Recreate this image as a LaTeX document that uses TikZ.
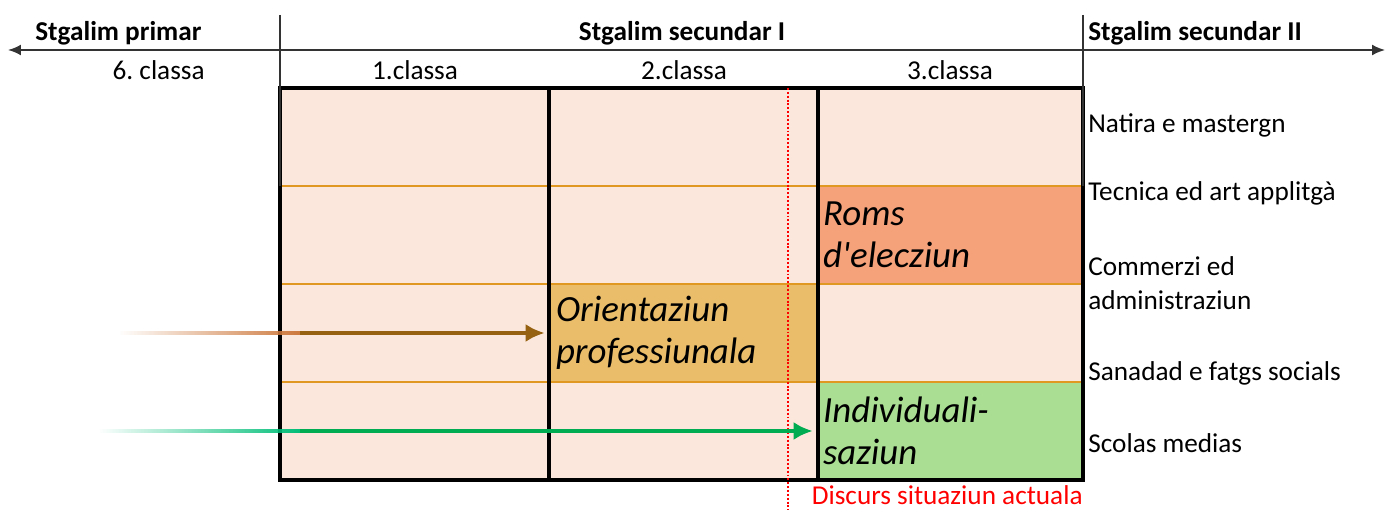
\documentclass[tikz,border=0pt]{standalone}
\usepackage{fontspec}
\setmainfont{Carlito}
\newfontfamily\handfont{Carlito}[Ligatures=TeXOff]
\usepackage{tikz}
\usetikzlibrary{arrows.meta,fadings}
\definecolor{cellbg}{RGB}{251,231,219}
\definecolor{romsfill}{RGB}{245,161,122}
\definecolor{orientfill}{RGB}{233,189,106}
\definecolor{indivfill}{RGB}{170,223,147}
\definecolor{rowline}{RGB}{224,152,34}
\definecolor{arrowbrown}{RGB}{150,98,18}
\definecolor{tailbrown}{RGB}{205,120,60}
\definecolor{arrowgreen}{RGB}{0,172,82}
\definecolor{tailgreen}{RGB}{0,190,120}
\newcommand{\handtxt}{\handfont\fontsize{21}{24}\selectfont\itshape}
\newcommand{\labtxt}{\fontsize{15.5}{19.3}\selectfont}
\tikzfading[name=fadein, left color=transparent!100, right color=transparent!0]
\tikzstyle{cell}=[rectangle, inner sep=0pt, minimum width=5.38cm, minimum height=1.96cm, text width=5.1cm, align=left, font=\handtxt]
\tikzstyle{rowlab}=[anchor=west, inner sep=0pt, align=left, font=\labtxt]
\tikzstyle{collab}=[inner sep=0pt, font=\labtxt]
\tikzstyle{stage}=[inner sep=0pt, font=\labtxt\bfseries]
\tikzstyle{thick line}=[draw=black, line width=2.2pt]
\tikzstyle{thin line}=[draw=black!80, line width=1.1pt]
\tikzstyle{tail}=[line width=2.2pt, path fading=fadein]
\tikzstyle{arrow}=[line width=2.2pt, -{Latex[length=3.8mm, width=3.6mm]}]

\begin{document}
\begin{tikzpicture}[x=0.02cm, y=-0.02cm]
		   \useasboundingbox (0,0) rectangle (1386,510);
		   \begin{scope}
			   \fill[cellbg] (280,88) rectangle (1083,480);
			   \node (roms) at (950.5,235) [cell, fill=romsfill] {Roms\\d'elecziun};
			   \node (orient) at (683.5,333) [cell, fill=orientfill] {Orientaziun\\professiunala};
			   \node (indiv) at (950.5,431) [cell, fill=indivfill] {Individuali-\\saziun};

			   \node (s1) at (35,33) [stage, anchor=west] {Stgalim primar};
			   \node (s2) at (682,33) [stage] {Stgalim secundar I};
			   \node (s3) at (1088,33) [stage, anchor=west] {Stgalim secundar II};

			   \node (k6) at (205,70) [collab, anchor=east] {6.\ classa};
			   \node (k1) at (415,70) [collab] {1.classa};
			   \node (k2) at (684,70) [collab] {2.classa};
			   \node (k3) at (950,70) [collab] {3.classa};

			   \node (r1) at (1088,125) [rowlab] {Natira e mastergn};
			   \node (r2) at (1088,193) [rowlab] {Tecnica ed art applitgà};
			   \node (r3) at (1088,283) [rowlab] {Commerzi ed\\administraziun};
			   \node (r4) at (1088,373) [rowlab] {Sanadad e fatgs socials};
			   \node (r5) at (1088,443) [rowlab] {Scolas medias};

			   \node (now) at (1083,495) [collab, anchor=east, text=red] {Discurs situaziun actuala};

			   \coordinate (h1) at (8,50);
			   \coordinate (h2) at (1385,50);
			   \coordinate (v1) at (280,15);
			   \coordinate (v2) at (1083,15);
			   \coordinate (d1) at (788,88);
			   \coordinate (d2) at (788,510);
			   \coordinate (a1) at (120,333);
			   \coordinate (a2) at (300,333);
			   \coordinate (b1) at (100,431);
			   \coordinate (b2) at (300,431);
		   \end{scope}
		   \begin{scope}
			   \foreach \y in {186,284,382}
				   \draw[rowline, line width=1.3pt] (280,\y) -- (1083,\y);
			   \draw[thick line] (549,88) -- (549,480);
			   \draw[thick line] (818,88) -- (818,480);
			   \draw[thick line] (280,88) rectangle (1083,480);

			   \draw [thin line, {Latex[length=2.6mm, width=2.2mm]}-{Latex[length=2.6mm, width=2.2mm]}] (h1) -- (h2);
			   \path [thin line] (v1) edge (v1 |- roms.north);
			   \path [thin line] (v2) edge (v2 |- roms.north);

			   \path [draw=red, line width=1.1pt, dash pattern=on 1.1pt off 1.1pt] (d1) edge (d2);

			   \draw [tail, tailbrown] (a1) -- (a2);
			   \draw [arrow, arrowbrown] (a2) -- ([xshift=-0.08cm]orient.west);
			   \draw [tail, tailgreen] (b1) -- (b2);
			   \draw [arrow, arrowgreen] (b2) -- ([xshift=-0.06cm]indiv.west);
		   \end{scope}
	   \end{tikzpicture}
\end{document}
